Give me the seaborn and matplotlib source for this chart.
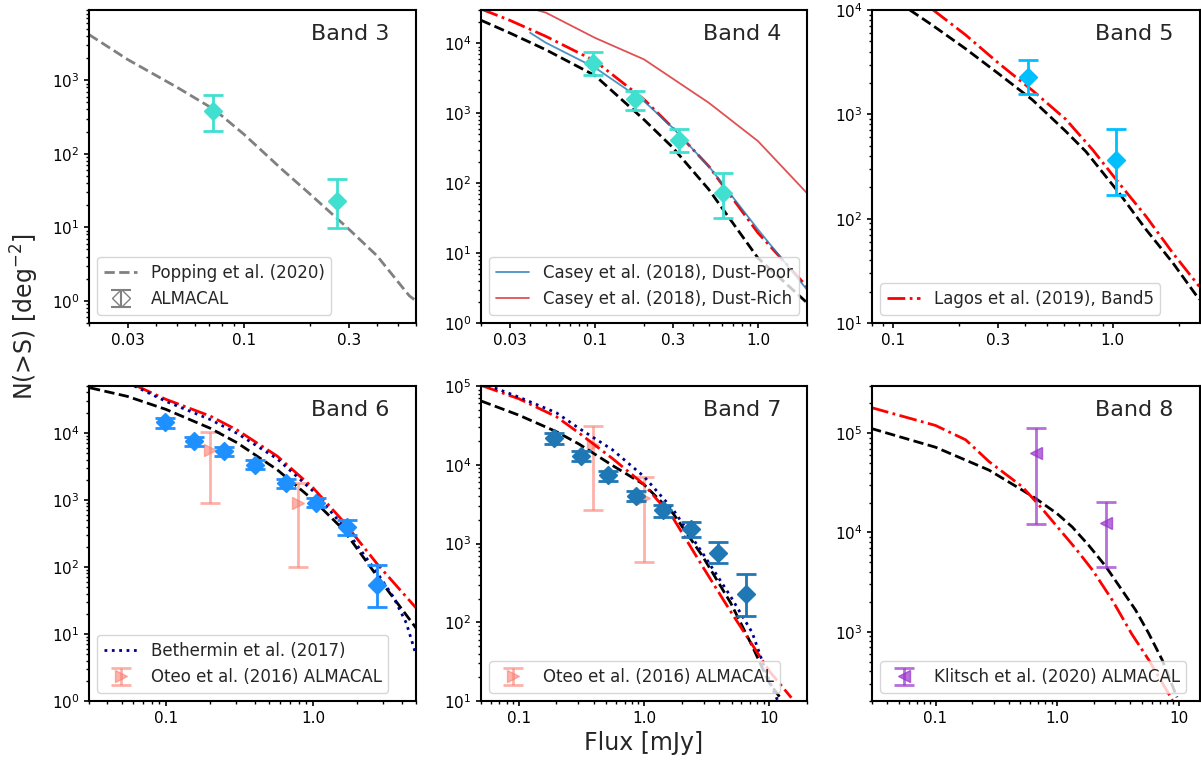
import numpy as np
import matplotlib
matplotlib.use("Agg")
import matplotlib.pyplot as plt
import seaborn as sns
from matplotlib.ticker import FixedLocator, FixedFormatter, LogLocator, NullFormatter

# ---------------- data ----------------
# Band 3
b3_pop_x = [0.02, 0.03, 0.05, 0.0735, 0.1, 0.15, 0.2, 0.3, 0.4, 0.5, 0.56, 0.6]
b3_pop_y = [4170, 1900, 800, 400, 185, 60, 28, 9.3, 4.1, 1.78, 1.17, 1.0]
b3_x = [0.073, 0.264]
b3_y = [380, 22.7]
b3_lo = [203, 9.8]
b3_hi = [620, 44.7]

# Band 4
b4_lag_x = [0.02, 0.03, 0.05, 0.1, 0.2, 0.3, 0.5, 1.0, 2.0]
b4_lag_y = [31000, 21400, 12600, 5600, 1580, 620, 174, 19.5, 3.3]
b4_mod_x = [0.02, 0.03, 0.05, 0.1, 0.2, 0.3, 0.5, 1.0, 2.0]
b4_mod_y = [21400, 14100, 8100, 3470, 810, 324, 81, 8.5, 1.95]
b4_poor_x = [0.04, 0.05, 0.1, 0.2, 0.3, 0.5, 1.0, 2.0]
b4_poor_y = [14200, 10200, 4500, 1490, 620, 174, 21.8, 3.0]
b4_rich_x = [0.04, 0.05, 0.1, 0.2, 0.5, 1.0, 2.0]
b4_rich_y = [32000, 27500, 12000, 5900, 1410, 400, 72]
b4_x = [0.097, 0.177, 0.33, 0.607]
b4_y = [5300, 1580, 410, 72]
b4_lo = [3500, 1100, 280, 32]
b4_hi = [7400, 2100, 590, 142]

# Band 5
b5_mod_x = [0.119, 0.15, 0.213, 0.302, 0.43, 0.61, 0.755, 1.07, 1.42, 1.88, 2.48]
b5_mod_y = [10000, 7200, 4270, 2450, 1380, 690, 440, 176, 78.5, 37.7, 16.8]
b5_lag_x = [0.152, 0.213, 0.302, 0.43, 0.61, 0.81, 1.07, 1.42, 1.88, 2.48]
b5_lag_y = [10000, 5800, 3090, 1700, 900, 458, 218, 105, 46.8, 22.4]
b5_x = [0.41, 1.03]
b5_y = [2300, 365]
b5_lo = [1550, 167]
b5_hi = [3300, 730]

# Band 6
b6_mod_x = [0.0305, 0.0547, 0.1, 0.2, 0.305, 0.57, 1.0, 1.6, 2.73, 5.0]
b6_mod_y = [47000, 35000, 22400, 11700, 7100, 2820, 1000, 363, 72, 12.3]
b6_lag_x = [0.062, 0.1, 0.2, 0.305, 0.57, 1.0, 1.6, 2.73, 5.0]
b6_lag_y = [51000, 31600, 17800, 11000, 4500, 1510, 480, 110, 24.5]
b6_bet_x = [0.061, 0.1, 0.2, 0.305, 0.57, 1.0, 1.6, 2.73, 3.5, 4.3, 5.0]
b6_bet_y = [50000, 29500, 15800, 9800, 4100, 1350, 407, 81, 36, 14.5, 4.9]
b6_x = [0.098, 0.154, 0.247, 0.40, 0.65, 1.05, 1.69, 2.73]
b6_y = [14400, 7500, 5300, 3370, 1780, 910, 400, 54]
b6_lo = [11900, 6450, 4500, 2900, 1480, 775, 300, 25]
b6_hi = [16700, 8600, 6100, 3900, 2070, 1050, 500, 107]
b6_oteo_x = [0.2, 0.79]
b6_oteo_y = [5600, 900]
b6_oteo_lo = [900, 100]
b6_oteo_hi = [10200, 1780]

# Band 7
b7_mod_x = [0.05, 0.1, 0.2, 0.305, 0.56, 1.0, 1.71, 2.93, 4.9, 7.3, 10.0, 12.5]
b7_mod_y = [64600, 42700, 26300, 18200, 9800, 5600, 2400, 692, 178, 50, 17, 10.5]
b7_lag_x = [0.05, 0.1, 0.2, 0.305, 0.56, 1.0, 1.71, 2.93, 4.9, 7.3, 10.0, 15.0]
b7_lag_y = [102000, 69000, 40700, 25100, 12000, 5620, 2090, 513, 138, 52, 24, 11]
b7_bet_x = [0.05, 0.1, 0.2, 0.305, 0.56, 1.0, 1.71, 2.93, 4.9, 7.3, 10.0, 11.7]
b7_bet_y = [110000, 72400, 45700, 28800, 15500, 7080, 2690, 759, 214, 74, 18, 10]
b7_x = [0.19, 0.315, 0.52, 0.86, 1.43, 2.36, 3.91, 6.46]
b7_y = [21600, 13000, 7450, 4000, 2640, 1510, 760, 230]
b7_lo = [18500, 11300, 6300, 3500, 2200, 1200, 560, 119]
b7_hi = [25000, 14900, 8400, 4700, 3080, 1860, 1030, 405]
b7_oteo_x = [0.39, 1.0]
b7_oteo_y = [17700, 3800]
b7_oteo_lo = [2640, 590]
b7_oteo_hi = [31000, 6900]

# Band 8
b8_mod_x = [0.0295, 0.1, 0.275, 0.516, 0.665, 1.0, 1.33, 1.82, 2.51, 4.43, 5.69, 7.33, 9.7]
b8_mod_y = [112000, 72400, 42600, 26800, 22100, 15500, 11400, 7430, 4570, 1650, 955, 519, 218]
b8_lag_x = [0.0295, 0.1, 0.177, 0.275, 0.516, 0.71, 1.05, 1.42, 1.96, 2.84, 4.1, 5.69, 8.9]
b8_lag_y = [182000, 120000, 86000, 52000, 29000, 18900, 10700, 6900, 4170, 2090, 955, 517, 204]
b8_kl_x = [0.67, 2.54]
b8_kl_y = [63000, 12600]
b8_kl_lo = [12300, 4450]
b8_kl_hi = [112000, 20500]

# axis settings (limits and tick labels)
band_names = ["Band 3", "Band 4", "Band 5", "Band 6", "Band 7", "Band 8"]
xlims = [(0.02, 0.6), (0.02, 2.0), (0.08, 2.5), (0.03, 5.0), (0.05, 20.0), (0.03, 15.0)]
ylims = [(0.5, 9000), (1, 30000), (10, 10000), (1, 50000), (10, 100000), (200, 300000)]
xticks = [[0.03, 0.1, 0.3], [0.03, 0.1, 0.3, 1.0], [0.1, 0.3, 1.0],
          [0.1, 1.0], [0.1, 1.0, 10], [0.1, 1.0, 10]]
xticklabels = [["0.03", "0.1", "0.3"], ["0.03", "0.1", "0.3", "1.0"], ["0.1", "0.3", "1.0"],
               ["0.1", "1.0"], ["0.1", "1.0", "10"], ["0.1", "1.0", "10"]]

# ---------------- style ----------------
sns.set_style("ticks")
plt.rcParams["font.family"] = ["DejaVu Sans"]
plt.rcParams["axes.linewidth"] = 1.5
plt.rcParams["xtick.major.width"] = 1.2
plt.rcParams["ytick.major.width"] = 1.2
plt.rcParams["xtick.minor.width"] = 1.0
plt.rcParams["ytick.minor.width"] = 1.0
plt.rcParams["xtick.labelsize"] = 11
plt.rcParams["ytick.labelsize"] = 11
plt.rcParams["xtick.color"] = "black"
plt.rcParams["ytick.color"] = "black"
plt.rcParams["axes.edgecolor"] = "black"

W, H = 1201, 764
fig = plt.figure(figsize=(W / 100, H / 100), dpi=100)

cols = [(89, 416), (481, 807), (872, 1200)]
rows = [(10, 323), (386, 701)]
axes = []
for r in rows:
    for c in cols:
        ax = fig.add_axes([c[0] / W, 1 - r[1] / H, (c[1] - c[0]) / W, (r[1] - r[0]) / H])
        axes.append(ax)

def line(ax, x, y, color, ls, lw=2.0, label=None, alpha=1.0, zorder=2):
    sns.lineplot(x=x, y=y, ax=ax, color=color, linestyle=ls, linewidth=lw,
                 sort=False, estimator=None, legend=False, alpha=alpha, zorder=zorder)
    ln = ax.lines[-1]
    if label:
        ln.set_label(label)
    return ln

def points(ax, x, y, lo, hi, color, marker="D", ms=9, alpha=1.0, zorder=3, mfc=None, label=None):
    x = np.asarray(x, float); y = np.asarray(y, float)
    err = [y - np.asarray(lo, float), np.asarray(hi, float) - y]
    return ax.errorbar(x, y, yerr=err, fmt=marker, color=color, ms=ms, capsize=7,
                       elinewidth=2, capthick=2, alpha=alpha, zorder=zorder,
                       mfc=mfc if mfc else color, label=label)

leg_kw = dict(fontsize=12, loc="lower left", framealpha=0.8)

# Band 3
ax = axes[0]
h1 = line(ax, b3_pop_x, b3_pop_y, "gray", "--", label="Popping et al. (2020)")
points(ax, b3_x, b3_y, b3_lo, b3_hi, "turquoise")
h2 = ax.errorbar([np.nan], [np.nan], yerr=[[np.nan], [np.nan]], fmt="D", color="gray",
                 mfc="none", ms=9, capsize=7, elinewidth=1.5, capthick=1.5, label="ALMACAL")
ax.legend(handles=[h1, h2], **leg_kw)

# Band 4
ax = axes[1]
line(ax, b4_mod_x, b4_mod_y, "black", "--")
line(ax, b4_lag_x, b4_lag_y, "red", "-.")
hp = line(ax, b4_poor_x, b4_poor_y, "#1f77b4", "-", lw=1.3, alpha=0.8, label="Casey et al. (2018), Dust-Poor")
hr = line(ax, b4_rich_x, b4_rich_y, "#d62728", "-", lw=1.3, alpha=0.8, label="Casey et al. (2018), Dust-Rich")
points(ax, b4_x, b4_y, b4_lo, b4_hi, "turquoise")
ax.legend(handles=[hp, hr], **leg_kw)

# Band 5
ax = axes[2]
line(ax, b5_mod_x, b5_mod_y, "black", "--")
hl = line(ax, b5_lag_x, b5_lag_y, "red", "-.", label="Lagos et al. (2019), Band5")
points(ax, b5_x, b5_y, b5_lo, b5_hi, "deepskyblue")
ax.legend(handles=[hl], **leg_kw)

# Band 6
ax = axes[3]
line(ax, b6_mod_x, b6_mod_y, "black", "--")
line(ax, b6_lag_x, b6_lag_y, "red", "-.")
hb = line(ax, b6_bet_x, b6_bet_y, "darkblue", ":", label="Bethermin et al. (2017)")
ho = points(ax, b6_oteo_x, b6_oteo_y, b6_oteo_lo, b6_oteo_hi, "salmon", marker=">",
            alpha=0.6, zorder=1, label="Oteo et al. (2016) ALMACAL")
points(ax, b6_x, b6_y, b6_lo, b6_hi, "dodgerblue")
ax.legend(handles=[hb, ho], **leg_kw)

# Band 7
ax = axes[4]
line(ax, b7_mod_x, b7_mod_y, "black", "--")
line(ax, b7_lag_x, b7_lag_y, "red", "-.")
line(ax, b7_bet_x, b7_bet_y, "darkblue", ":")
ho7 = points(ax, b7_oteo_x, b7_oteo_y, b7_oteo_lo, b7_oteo_hi, "salmon", marker=">",
             alpha=0.6, zorder=1, label="Oteo et al. (2016) ALMACAL")
points(ax, b7_x, b7_y, b7_lo, b7_hi, "#1f77b4")
ax.legend(handles=[ho7], **leg_kw)
ax.set_xlabel("Flux [mJy]", fontsize=17)

# Band 8
ax = axes[5]
line(ax, b8_mod_x, b8_mod_y, "black", "--")
line(ax, b8_lag_x, b8_lag_y, "red", "-.")
hk = points(ax, b8_kl_x, b8_kl_y, b8_kl_lo, b8_kl_hi, "darkorchid", marker="<",
            alpha=0.7, label="Klitsch et al. (2020) ALMACAL")
ax.legend(handles=[hk], **leg_kw)

for i, ax in enumerate(axes):
    ax.set_xscale("log")
    ax.set_yscale("log")
    ax.set_xlim(*xlims[i])
    ax.set_ylim(*ylims[i])
    ax.xaxis.set_major_locator(FixedLocator(xticks[i]))
    ax.xaxis.set_major_formatter(FixedFormatter(xticklabels[i]))
    ax.xaxis.set_minor_locator(LogLocator(base=10, subs=np.arange(2, 10)))
    ax.xaxis.set_minor_formatter(NullFormatter())
    ax.yaxis.set_minor_formatter(NullFormatter())
    ax.text(0.92, 0.955, band_names[i], transform=ax.transAxes, ha="right", va="top", fontsize=16)
    for s in ax.spines.values():
        s.set_visible(True)
        s.set_linewidth(1.5)

fig.text(25 / W, 1 - 317 / H, "N(>S) [deg$^{-2}$]", rotation=90, ha="center", va="center", fontsize=17)

fig.savefig("out.png", dpi=100)
